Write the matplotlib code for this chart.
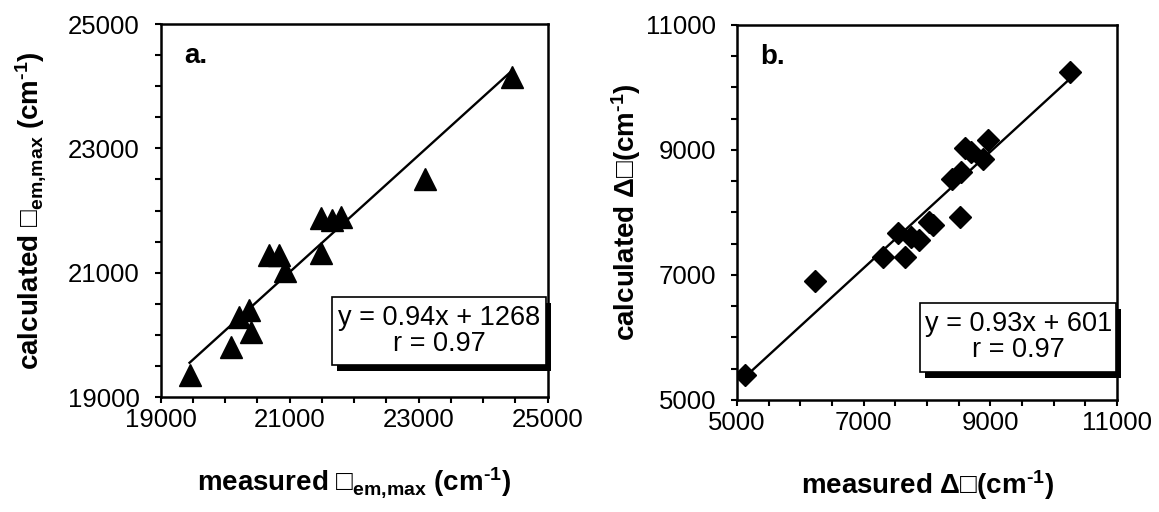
import matplotlib
matplotlib.use("Agg")

import matplotlib.pyplot as plt
from matplotlib.patches import Rectangle
from matplotlib.ticker import MultipleLocator

plt.rcParams['font.family'] = ['Liberation Sans', 'DejaVu Sans']
plt.rcParams['mathtext.fontset'] = 'custom'
plt.rcParams['mathtext.rm'] = 'Liberation Sans:bold'
plt.rcParams['mathtext.bf'] = 'Liberation Sans:bold'
plt.rcParams['mathtext.default'] = 'bf'

# panel a: emission maximum (cm-1)
meas_em = [19450, 20087, 20216, 20371, 20398, 20682, 20837, 20922,
           21484, 21484, 21665, 21795, 23096, 24453]
calc_em = [19355, 19806, 20290, 20398, 20048, 21290, 21290, 21021,
           21311, 21876, 21850, 21903, 22500, 24150]
fit_a = (0.94, 1268)
r_a = 0.97

# panel b: Stokes shift (cm-1)
meas_dnu = [5126, 6231, 7310, 7540, 7660, 7740, 7880, 8030, 8100,
            8520, 8400, 8540, 8600, 8700, 8880, 8968, 10258]
calc_dnu = [5400, 6904, 7293, 7667, 7293, 7600, 7560, 7853, 7800,
            7933, 8531, 8640, 9027, 8970, 8850, 9160, 10253]
fit_b = (0.93, 601)
r_b = 0.97

ticks_a = [19000, 21000, 23000, 25000]
ticks_b = [5000, 7000, 9000, 11000]

fig = plt.figure(figsize=(11.59, 5.12), dpi=100)
ax_a = fig.add_axes([0.1385, 0.2246, 0.3340, 0.7285])
ax_b = fig.add_axes([0.6359, 0.2188, 0.3279, 0.7324])


def draw_panel(ax, xs, ys, marker, ms, fit, r, ticks, tag, box):
    slope, icpt = fit
    lo, hi = min(xs), max(xs)
    ax.plot([lo, hi], [slope * lo + icpt, slope * hi + icpt], color='black', lw=1.7, zorder=2)
    ax.plot(xs, ys, linestyle='none', marker=marker, ms=ms, color='black', zorder=3)

    ax.set_xlim(ticks[0], ticks[-1])
    ax.set_ylim(ticks[0], ticks[-1])
    ax.set_xticks(ticks)
    ax.set_yticks(ticks)
    ax.xaxis.set_minor_locator(MultipleLocator(500))
    ax.yaxis.set_minor_locator(MultipleLocator(500))
    ax.tick_params(which='both', direction='out', length=4, width=1.5, top=False, right=False)
    ax.tick_params(axis='x', which='major', labelsize=18.5, pad=4)
    ax.tick_params(axis='y', which='major', labelsize=18.5, pad=11)
    for s in ax.spines.values():
        s.set_linewidth(1.8)

    ax.text(0.062, 0.95, tag, transform=ax.transAxes, fontsize=20, fontweight='bold',
            ha='left', va='top')

    # equation box with shadow
    x0, y0, x1, y1 = box
    ax.add_patch(Rectangle((x0 + 0.012, y0 - 0.017), x1 - x0, y1 - y0, transform=ax.transAxes,
                           facecolor='black', edgecolor='none', clip_on=False, zorder=4))
    ax.add_patch(Rectangle((x0, y0), x1 - x0, y1 - y0, transform=ax.transAxes,
                           facecolor='white', edgecolor='black', lw=1.2, clip_on=False, zorder=5))
    ax.text((x0 + x1) / 2, (y0 + y1) / 2,
            "y = %.2fx + %d\nr = %.2f" % (slope, icpt, r),
            transform=ax.transAxes, fontsize=19.5, ha='center', va='center',
            linespacing=1.0, zorder=6)


draw_panel(ax_a, meas_em, calc_em, '^', 15.5, fit_a, r_a, ticks_a, 'a.',
           (0.444, 0.086, 0.997, 0.269))
draw_panel(ax_b, meas_dnu, calc_dnu, 'D', 11, fit_b, r_b, ticks_b, 'b.',
           (0.482, 0.075, 0.998, 0.259))

ax_a.set_xlabel("measured \u25a1$_{em{,}max}$ (cm$^{\\text{-}1}$)", fontsize=20, fontweight='bold', labelpad=24)
ax_a.set_ylabel("calculated \u25a1$_{em{,}max}$ (cm$^{\\text{-}1}$)", fontsize=20, fontweight='bold', labelpad=14)
ax_b.set_xlabel("measured \u0394\u25a1(cm$^{\\text{-}1}$)", fontsize=20, fontweight='bold', labelpad=24)
ax_b.set_ylabel("calculated \u0394\u25a1(cm$^{\\text{-}1}$)", fontsize=20, fontweight='bold', labelpad=2)

fig.savefig("out.png", dpi=100)
